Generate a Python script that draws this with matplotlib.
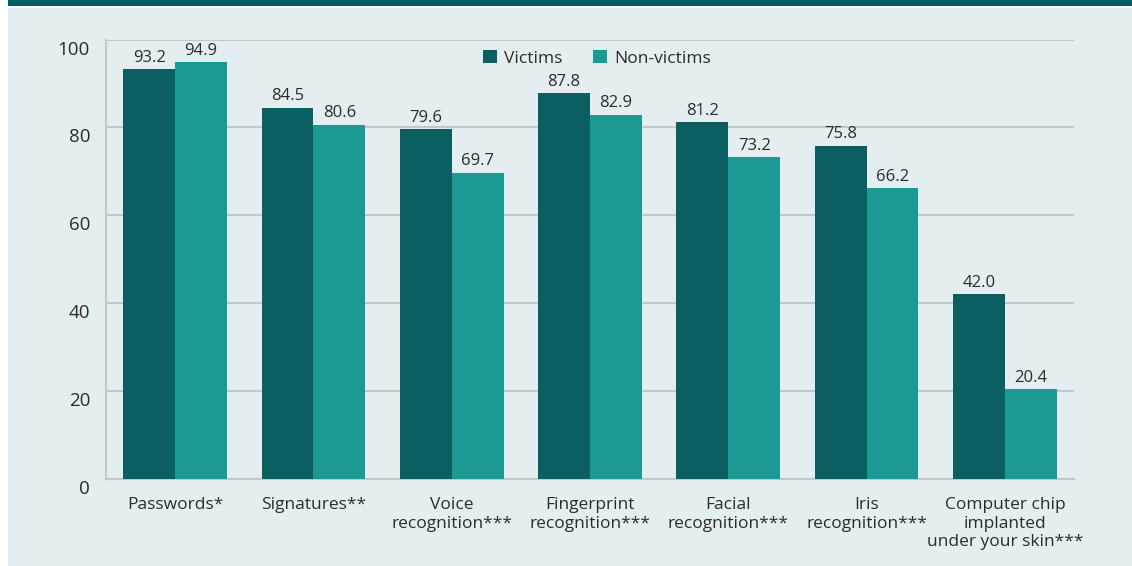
import matplotlib
matplotlib.use("Agg")
import matplotlib.pyplot as plt
from matplotlib.patches import Rectangle
from matplotlib.transforms import ScaledTranslation
import numpy as np

categories = ["Passwords*", "Signatures**", "Voice\nrecognition***",
              "Fingerprint\nrecognition***", "Facial\nrecognition***",
              "Iris\nrecognition***", "Computer chip\nimplanted\nunder your skin***"]
victims = [93.2, 84.5, 79.6, 87.8, 81.2, 75.8, 42.0]
non_victims = [94.9, 80.6, 69.7, 82.9, 73.2, 66.2, 20.4]
yticks = [0, 20, 40, 60, 80, 100]

C_VIC = "#0b5f61"
C_NON = "#1a9a92"
C_BG = "#e4eef0"
C_BAND = "#005f64"
C_GRID = "#c3c7c9"
C_TEXT = "#2b2b2b"

plt.rcParams["font.family"] = ["Open Sans", "DejaVu Sans"]

W, H = 1132, 566
fig = plt.figure(figsize=(W / 100, H / 100), dpi=100, facecolor="white")

# panel background and header band
fig.patches.append(Rectangle((8 / W, 0), 1 - 8 / W, 1 - 8 / H,
                             transform=fig.transFigure, facecolor=C_BG,
                             edgecolor="none", zorder=-10))
fig.patches.append(Rectangle((8 / W, 1 - 6 / H), 1 - 8 / W, 6 / H,
                             transform=fig.transFigure, facecolor=C_BAND,
                             edgecolor="none", zorder=-10))

ax = fig.add_axes([106 / W, 1 - 478.7 / H, (1074 - 106) / W, (478.7 - 39.6) / H])
ax.set_facecolor("none")

x = np.arange(len(categories))
bw = 0.375
b1 = ax.bar(x - bw / 2, victims, bw, color=C_VIC, label="Victims", zorder=3)
b2 = ax.bar(x + bw / 2, non_victims, bw, color=C_NON, label="Non-victims", zorder=3)

for bars, vals in ((b1, victims), (b2, non_victims)):
    for rect, v in zip(bars, vals):
        ax.annotate(f"{v:.1f}", (rect.get_x() + rect.get_width() / 2, v),
                    xytext=(0, 2.5), textcoords="offset points",
                    ha="center", va="bottom", fontsize=12, color=C_TEXT)

ax.set_xlim(-0.5, 6.5)
ax.set_ylim(0, 100)
ax.set_yticks(yticks)
ax.yaxis.grid(True, color=C_GRID, linewidth=1.5, zorder=0)
ax.set_axisbelow(True)
for s in ("top", "right"):
    ax.spines[s].set_visible(False)
for s in ("left", "bottom"):
    ax.spines[s].set_color(C_GRID)
    ax.spines[s].set_linewidth(1.5)
    ax.spines[s].set_zorder(1)

ax.tick_params(axis="y", length=0, pad=11.5, labelsize=13.5, labelcolor=C_TEXT)
ax.tick_params(axis="x", length=0, pad=13, labelsize=12.5, labelcolor=C_TEXT)
ax.set_xticks(x)
ax.set_xticklabels(categories, linespacing=1.23)

shift = ScaledTranslation(0, -8 / 100, fig.dpi_scale_trans)
for lab in ax.get_yticklabels():
    lab.set_transform(lab.get_transform() + shift)

leg = ax.legend(loc="upper center", bbox_to_anchor=(0.507, 1.0), ncol=2,
                frameon=False, fontsize=12.5, handlelength=0.8, handleheight=0.8,
                handletextpad=0.4, columnspacing=1.8, borderaxespad=0.2)
for t in leg.get_texts():
    t.set_color(C_TEXT)

fig.savefig("out.png", dpi=100, facecolor=fig.get_facecolor())
